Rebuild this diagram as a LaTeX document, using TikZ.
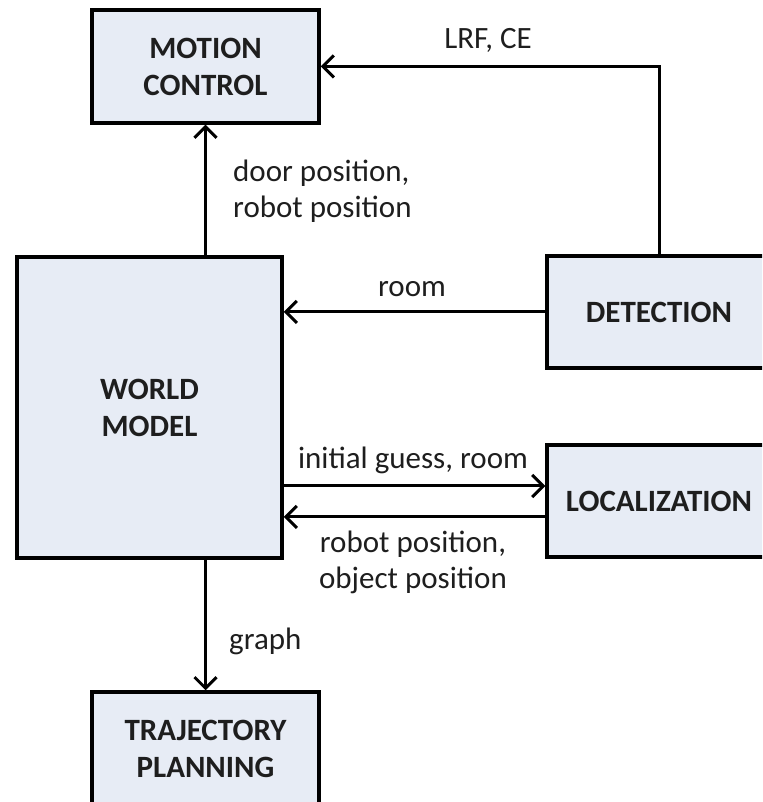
\documentclass[tikz,border=0pt]{standalone}
\usepackage{fontspec}
\setmainfont{Carlito}
\usetikzlibrary{arrows.meta}
\definecolor{boxfill}{RGB}{231,236,245}
\definecolor{txt}{RGB}{30,30,30}
\tikzset{
  block/.style={draw=black, line width=3.5pt, fill=boxfill, align=center, inner sep=0pt,
    font=\fontsize{31}{37}\selectfont\bfseries, text=txt},
  lab/.style={inner sep=0pt, font=\fontsize{31}{36}\selectfont, text=txt},
  conn/.style={line width=3pt, -{Straight Barb[length=11pt,width=22pt]}}
}
\begin{document}
\begin{tikzpicture}[x=1pt,y=1pt]
\useasboundingbox (0,0) rectangle (762,802);
\clip (0,0) rectangle (762,802);
\node[block, minimum width=227pt, minimum height=113pt] (mc) at (205.5,735.5) {MOTION\\CONTROL};
\node[block, minimum width=265pt, minimum height=301pt] (wm) at (149.5,394.5) {WORLD\\MODEL};
\node[block, minimum width=224pt, minimum height=112pt] (det) at (659,490) {DETECTION};
\node[block, minimum width=224pt, minimum height=112pt] (loc) at (659,301) {LOCALIZATION};
\node[block, minimum width=227pt, minimum height=113pt] (tp) at (205.5,53.5) {TRAJECTORY\\PLANNING};
\coordinate (lin) at ([yshift=15pt]loc.west);
\coordinate (lout) at ([yshift=-16pt]loc.west);
\draw[conn] (mc.south |- wm.north) -- (mc.south);
\draw[conn] (det.north) |- (mc.east);
\draw[conn] (det.west) -- (wm.east |- det.west);
\draw[conn] (wm.east |- lin) -- (lin);
\draw[conn] (lout) -- (wm.east |- lout);
\draw[conn] (tp.north |- wm.south) -- (tp.north);
\node[lab, anchor=west, align=left] (l1) at (233,610.5) {door position,\\robot position};
\node[lab] (l2) at (488,762) {LRF, CE};
\node[lab] (l3) at (412,512.5) {room};
\node[lab] (l4) at (413,342) {initial guess, room};
\node[lab, align=center] (l5) at (413,240) {robot position,\\object position};
\node[lab, anchor=west] (l6) at (229,161) {graph};
\end{tikzpicture}
\end{document}
